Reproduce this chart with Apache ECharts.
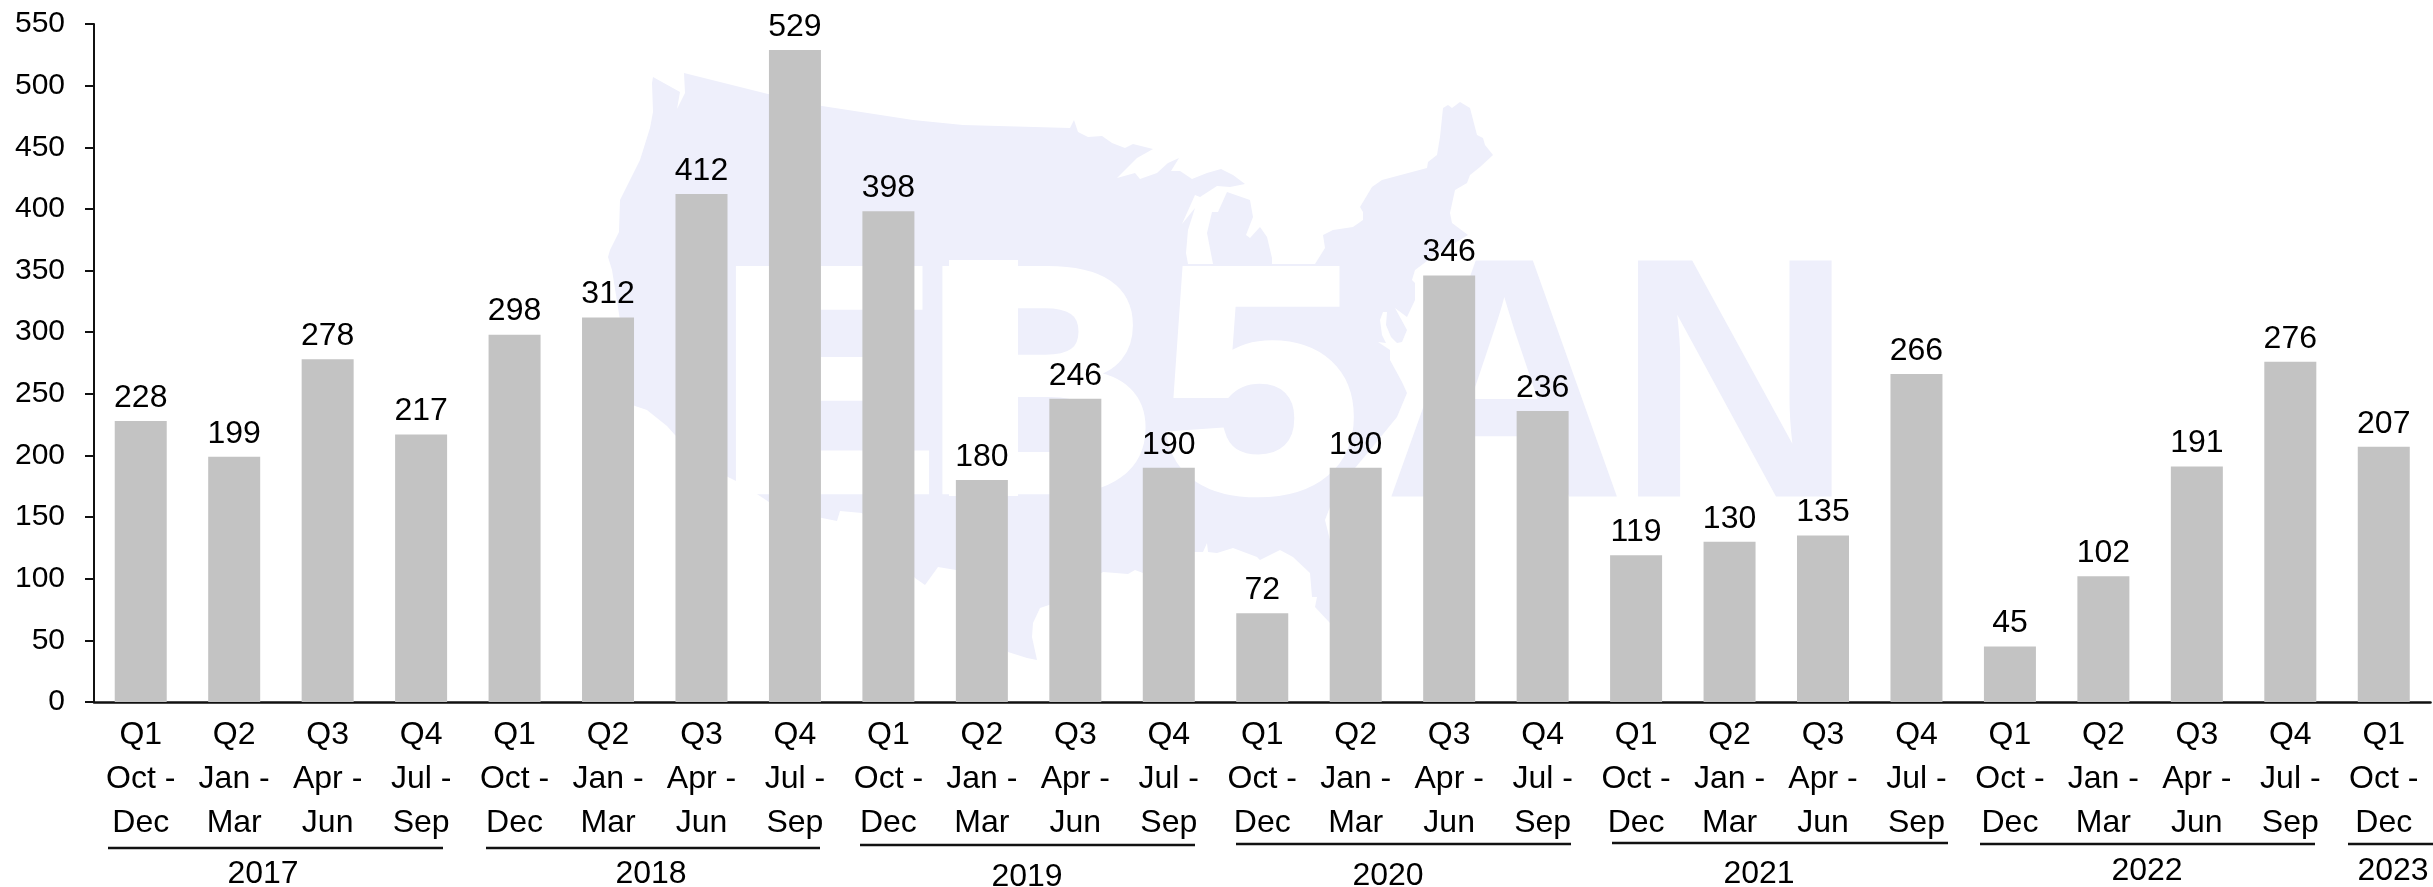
<!DOCTYPE html>
<html><head><meta charset="utf-8">
<style>html,body{margin:0;padding:0;background:#fff}#c{width:2433px;height:887px}</style>
<script src="https://cdn.jsdelivr.net/npm/echarts@6/dist/echarts.min.js"></script>
</head><body><div id="c"></div>
<script>
const quarters = ["Q1","Q2","Q3","Q4","Q1","Q2","Q3","Q4","Q1","Q2","Q3","Q4","Q1","Q2","Q3","Q4","Q1","Q2","Q3","Q4","Q1","Q2","Q3","Q4","Q1"];
const monthSpans = ["Oct -\nDec","Jan -\nMar","Apr -\nJun","Jul -\nSep"];
const spanOrder = [0,1,2,3,0,1,2,3,0,1,2,3,0,1,2,3,0,1,2,3,0,1,2,3,0];
const values = [228,199,278,217,298,312,412,529,398,180,246,190,72,190,346,236,119,130,135,266,45,102,191,276,207];
const years = ["2017","2018","2019","2020","2021","2022","2023"];
const categories = quarters.map((q,i)=>q+"\n"+monthSpans[spanOrder[i]]);

// year bracket layout: [x0, x1, lineY, textX, textY]
const yearLayout = [[108,443,848,263,874],[486,820,848,651,874],[860,1195,845,1027,877],[1236,1571,844,1388,876],[1612,1948,843,1759,874],[1980,2315,844,2147,871],[2348,2433,844,2393,871]];

// watermark silhouette
const mapOutline = [[653,77],[680,92],[677,109],[685,93],[684,73],[768,94],[822,106],[913,120],[963,125],[1070,128],[1074,120],[1078,132],[1088,137],[1102,136],[1112,143],[1125,148],[1133,144],[1153,149],[1137,158],[1117,178],[1135,173],[1140,179],[1157,173],[1168,163],[1179,158],[1171,171],[1180,171],[1192,179],[1207,173],[1221,169],[1233,175],[1245,184],[1230,187],[1217,186],[1200,197],[1195,195],[1182,224],[1195,208],[1188,230],[1186,253],[1188,264],[1213,264],[1207,233],[1212,212],[1218,212],[1227,192],[1250,200],[1253,217],[1246,235],[1250,238],[1260,227],[1267,237],[1272,258],[1272,264],[1315,264],[1325,248],[1323,235],[1333,230],[1353,227],[1363,220],[1363,212],[1360,207],[1372,187],[1382,180],[1427,168],[1428,162],[1437,155],[1440,137],[1443,108],[1448,105],[1452,108],[1460,102],[1470,108],[1477,135],[1483,138],[1485,145],[1493,155],[1480,167],[1470,175],[1467,183],[1455,190],[1450,213],[1452,223],[1468,235],[1435,255],[1415,270],[1412,280],[1415,283],[1415,300],[1407,317],[1395,308],[1407,330],[1402,342],[1397,343],[1391,337],[1386,325],[1387,312],[1383,312],[1380,320],[1382,335],[1386,343],[1378,342],[1390,350],[1390,360],[1402,382],[1407,393],[1397,417],[1370,450],[1345,480],[1330,507],[1325,520],[1330,540],[1345,580],[1350,620],[1335,628],[1330,623],[1315,607],[1317,597],[1312,597],[1310,573],[1293,557],[1280,550],[1260,560],[1257,557],[1233,548],[1217,553],[1208,552],[1207,543],[1203,552],[1195,552],[1143,573],[1135,570],[1128,574],[1103,572],[1049,605],[1040,608],[1033,623],[1032,637],[1037,660],[1027,658],[1008,652],[956,570],[938,567],[925,585],[915,578],[862,513],[840,511],[837,521],[822,518],[769,502],[760,496],[738,482],[728,477],[675,435],[667,426],[657,418],[647,410],[635,406],[625,400],[620,320],[612,270],[608,257],[610,250],[619,232],[620,200],[640,160],[650,128],[653,112],[652,83]];
// letter, x, fill, scaleX, font size, outline
const logoLetters = [["E",718,"#ffffff",1.03,320,8],["B",925,"#ffffff",1,320,8],["5",1160,"#ffffff",1.12,320,8],["A",1383,"#eeeffb",0.98,343,0],["N",1616,"#eeeffb",0.96,343,0]];

const graphics = [{type:'polygon',z:0,silent:true,shape:{points:mapOutline},style:{fill:'#eeeffb'}}];
logoLetters.forEach(l=>graphics.push({type:'text',z:1,silent:true,x:l[1],y:402,scaleX:l[3],style:{text:l[0],fill:l[2],stroke:l[2],lineWidth:l[5],font:'bold '+l[4]+'px "Liberation Sans"',textAlign:'left',textVerticalAlign:'middle'}}));
graphics.push({type:'rect',z:1,silent:true,shape:{x:949,y:260,width:69,height:236},style:{fill:'#fff'}});
years.forEach((y,i)=>{const p=yearLayout[i];
 graphics.push({type:'line',z:5,silent:true,shape:{x1:p[0],y1:p[2],x2:p[1],y2:p[2]},style:{stroke:'#111',lineWidth:2.5}});
 graphics.push({type:'text',z:5,silent:true,x:p[3],y:p[4],style:{text:y,fill:'#000',font:'32px "Liberation Sans"',textAlign:'center',textVerticalAlign:'middle'}});
});

const chart = echarts.init(document.getElementById('c'),null,{renderer:'canvas'});
chart.setOption({
 animation:false,backgroundColor:'#fff',
 textStyle:{fontFamily:'"Liberation Sans"'},
 grid:{left:94,top:24,width:2336.5,height:678,containLabel:false},
 graphic:graphics,
 xAxis:{type:'category',data:categories,
  axisLine:{lineStyle:{color:'#111',width:2.5}},axisTick:{show:false},
  axisLabel:{interval:0,margin:11,color:'#000',fontSize:32,lineHeight:44,fontFamily:'"Liberation Sans"',align:'center'}},
 yAxis:{type:'value',min:0,max:550,interval:50,splitLine:{show:false},
  axisLine:{show:true,lineStyle:{color:'#111',width:2}},
  axisTick:{show:true,length:9,lineStyle:{color:'#111',width:2}},
  axisLabel:{margin:29,color:'#000',fontSize:30,fontFamily:'"Liberation Sans"'}},
 series:[{type:'bar',data:values,barWidth:52,itemStyle:{color:'#c3c3c3'},
  label:{show:true,position:'top',distance:7,color:'#000',fontSize:32,fontFamily:'"Liberation Sans"'}}]
});
</script></body></html>
